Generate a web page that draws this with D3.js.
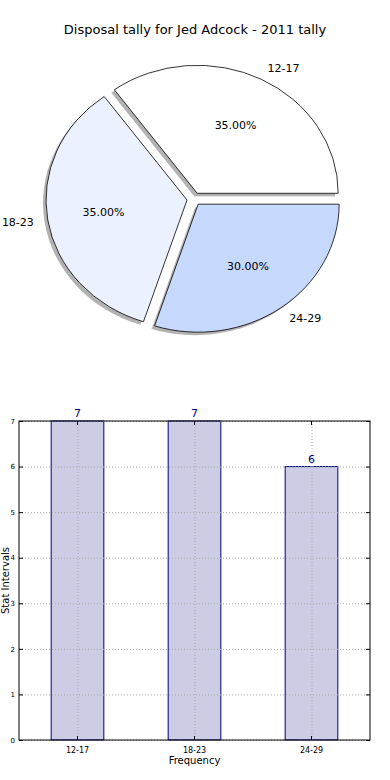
<!DOCTYPE html>
<html>
<head>
<meta charset="utf-8">
<script src="https://cdn.jsdelivr.net/npm/d3@7"></script>
<style>
  body { margin: 0; background: #fff; }
  text { font-family: "DejaVu Sans", sans-serif; }
</style>
</head>
<body>
<svg id="chart" width="390" height="780"></svg>
<script>
const categories = ["12-17", "18-23", "24-29"];
const tally = [7, 7, 6];
const pieColors = ["#ffffff", "#ebf1fe", "#c6d9fd"];
const yTicks = [0, 1, 2, 3, 4, 5, 6, 7];
const title = "Disposal tally for Jed Adcock - 2011 tally";

const svg = d3.select("#chart");

svg.append("text")
    .attr("x", 195).attr("y", 34)
    .attr("text-anchor", "middle")
    .style("font-size", "13px")
    .text(title);

// ---- pie (elliptical, like an unequal-aspect matplotlib axes) ----
const cx = 194, cy = 199, rx = 141, ry = 128, explode = 0.05;
const R = 100;

const pie = d3.pie().sort(null)
    .startAngle(Math.PI / 2)
    .endAngle(Math.PI / 2 - 2 * Math.PI);
const arcs = pie(tally);
const total = d3.sum(tally);
const arc = d3.arc().innerRadius(0).outerRadius(R);

const pieG = svg.append("g").attr("class", "pie");

function offset(d, k) {
    const a = (d.startAngle + d.endAngle) / 2;
    return [Math.sin(a) * k, -Math.cos(a) * k];
}

// shadows first
pieG.selectAll(".shadow")
    .data(arcs)
    .enter().append("path")
    .attr("class", "shadow")
    .attr("transform", d => {
        const [ox, oy] = offset(d, explode);
        return `translate(${cx + ox * rx - 3},${cy + oy * ry + 3}) scale(${rx / R},${ry / R})`;
    })
    .attr("d", arc)
    .attr("fill", "#555")
    .attr("fill-opacity", 0.45);

pieG.selectAll(".wedge")
    .data(arcs)
    .enter().append("path")
    .attr("class", "wedge")
    .attr("transform", d => {
        const [ox, oy] = offset(d, explode);
        return `translate(${cx + ox * rx},${cy + oy * ry}) scale(${rx / R},${ry / R})`;
    })
    .attr("d", arc)
    .attr("fill", (d, i) => pieColors[i])
    .attr("stroke", "#000")
    .attr("stroke-width", 0.8)
    .attr("vector-effect", "non-scaling-stroke");

// category labels at 1.1 radius
pieG.selectAll(".plabel")
    .data(arcs)
    .enter().append("text")
    .attr("class", "plabel")
    .each(function(d, i) {
        const [ex, ey] = offset(d, explode);
        const [lx, ly] = offset(d, 1.1);
        d3.select(this)
            .attr("x", cx + (ex + lx) * rx)
            .attr("y", cy + (ey + ly) * ry)
            .attr("dy", "0.35em")
            .attr("text-anchor", lx > 0 ? "start" : "end")
            .text(categories[i]);
    })
    .style("font-size", "11px");

// percent labels at 0.6 radius
pieG.selectAll(".pct")
    .data(arcs)
    .enter().append("text")
    .attr("class", "pct")
    .each(function(d) {
        const [ex, ey] = offset(d, explode);
        const [lx, ly] = offset(d, 0.6);
        d3.select(this)
            .attr("x", cx + (ex + lx) * rx)
            .attr("y", cy + (ey + ly) * ry)
            .attr("dy", "0.35em")
            .attr("text-anchor", "middle")
            .text((d.value / total * 100).toFixed(2) + "%");
    })
    .style("font-size", "11px");

// ---- bar chart ----
const m = { left: 19, right: 370, top: 421, bottom: 740 };

const x = d3.scaleBand()
    .domain(categories)
    .range([m.left, m.right])
    .paddingInner(0.55)
    .paddingOuter(0.275);

const y = d3.scaleLinear()
    .domain([0, 7])
    .range([m.bottom, m.top]);

const barG = svg.append("g").attr("class", "bars");

barG.selectAll(".bar")
    .data(tally)
    .enter().append("rect")
    .attr("class", "bar")
    .attr("x", (d, i) => x(categories[i]))
    .attr("y", d => y(d))
    .attr("width", x.bandwidth())
    .attr("height", d => y(0) - y(d))
    .attr("fill", "#ccccE4")
    .attr("stroke", "#000080")
    .attr("stroke-width", 1);

// grid (dotted, drawn above bars)
const grid = svg.append("g").attr("class", "grid")
    .attr("stroke", "#aaa")
    .attr("stroke-width", 1)
    .attr("stroke-dasharray", "1,2");

grid.selectAll(".gy")
    .data(yTicks)
    .enter().append("line")
    .attr("x1", m.left).attr("x2", m.right)
    .attr("y1", d => y(d) + 0.5).attr("y2", d => y(d) + 0.5);

grid.selectAll(".gx")
    .data(categories)
    .enter().append("line")
    .attr("x1", d => x(d) + x.bandwidth() / 2 + 0.5)
    .attr("x2", d => x(d) + x.bandwidth() / 2 + 0.5)
    .attr("y1", m.top).attr("y2", m.bottom);

// value labels
barG.selectAll(".val")
    .data(tally)
    .enter().append("text")
    .attr("class", "val")
    .attr("x", (d, i) => x(categories[i]) + x.bandwidth() / 2)
    .attr("y", d => y(d) - 4)
    .attr("text-anchor", "middle")
    .attr("fill", "#000080")
    .style("font-size", "11px")
    .text(d => d);

// frame
svg.append("rect")
    .attr("x", m.left).attr("y", m.top)
    .attr("width", m.right - m.left)
    .attr("height", m.bottom - m.top)
    .attr("fill", "none")
    .attr("stroke", "#000")
    .attr("stroke-width", 1);

// y axis
const yAxis = svg.append("g")
    .attr("transform", `translate(${m.left},0)`)
    .call(d3.axisLeft(y).tickValues(yTicks).tickSize(-4).tickPadding(4).tickFormat(d3.format("d")));
yAxis.select(".domain").remove();
yAxis.selectAll("text").style("font-size", "7px").attr("fill", "#000");

const yAxisR = svg.append("g")
    .attr("transform", `translate(${m.right},0)`)
    .call(d3.axisRight(y).tickValues(yTicks).tickSize(-4).tickFormat(""));
yAxisR.select(".domain").remove();

// x axis
const xAxis = svg.append("g")
    .attr("transform", `translate(0,${m.bottom})`)
    .call(d3.axisBottom(x).tickSize(-4).tickPadding(7));
xAxis.select(".domain").remove();
xAxis.selectAll("text").style("font-size", "8px").attr("fill", "#000");

const xAxisT = svg.append("g")
    .attr("transform", `translate(0,${m.top})`)
    .call(d3.axisTop(x).tickSize(-4).tickFormat(""));
xAxisT.select(".domain").remove();

svg.append("text")
    .attr("x", (m.left + m.right) / 2).attr("y", 764)
    .attr("text-anchor", "middle")
    .style("font-size", "10px")
    .text("Frequency");

svg.append("text")
    .attr("transform", `translate(9,${(m.top + m.bottom) / 2}) rotate(-90)`)
    .attr("text-anchor", "middle")
    .style("font-size", "10px")
    .text("Stat Intervals");
</script>
</body>
</html>
